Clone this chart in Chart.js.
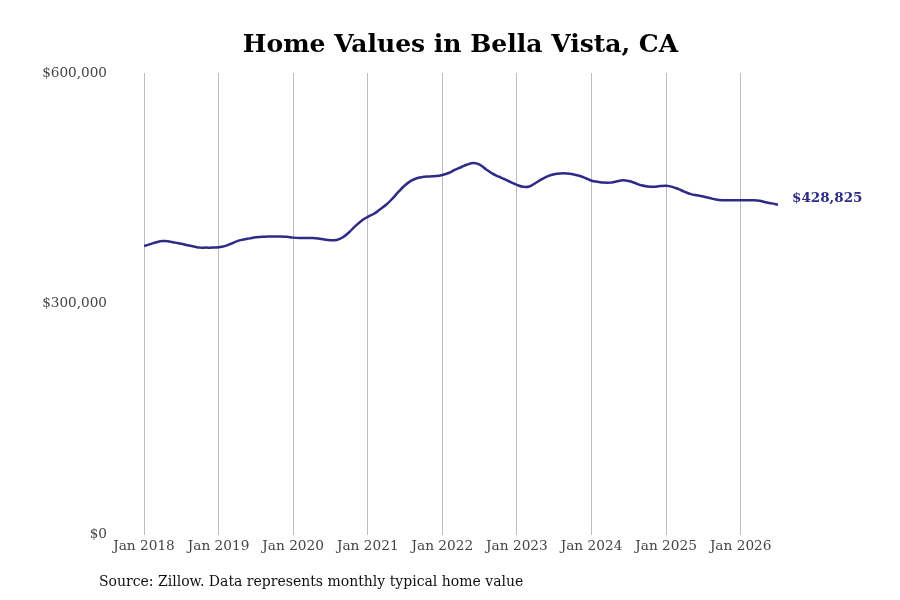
<!DOCTYPE html>
<html>
<head>
<meta charset="utf-8">
<title>Home Values in Bella Vista, CA</title>
<script src="https://cdn.jsdelivr.net/npm/chart.js@4.4.1/dist/chart.umd.min.js"></script>
<style>
  html, body { margin: 0; padding: 0; background: #fff; }
  #wrap { width: 900px; height: 600px; position: relative; }
</style>
</head>
<body>
<div id="wrap"><canvas id="chart"></canvas></div>
<script>
'use strict';

// monthly typical home value, Jan 2018 .. Jul 2026 (in thousands of dollars)
const startYear = 2018;
const values = [
  375, 377.5, 380, 381.5, 381, 379.5, 378, 376, 374.5, 373, 373, 373,
  373.5, 375, 378, 381.5, 383.5, 385, 386.5, 387, 387.5, 387.5, 387.5, 387,
  386, 385.5, 385.5, 385.5, 385, 383.5, 382.5, 383, 386.5, 393, 401, 408,
  413, 417, 423, 429, 437, 446, 454, 460, 463.5, 465, 465.5, 466,
  467.5, 470, 474, 477.5, 481, 483, 481, 475, 469.5, 465.5, 462, 458,
  454.5, 452, 452.5, 457, 462, 466, 468.5, 469.5, 469.5, 468.5, 466.5, 463.5,
  460, 458.5, 457.5, 457.5, 459, 460.5, 459.5, 457, 454, 452.5, 452, 453,
  453.5, 452, 449, 445.5, 442.5, 441, 439.5, 437.5, 435.5, 434.5, 434.5, 434.5,
  434.5, 434.5, 434.5, 434, 432, 430.5, 428.825
];
const yearTicks = [2018, 2019, 2020, 2021, 2022, 2023, 2024, 2025, 2026];
const yTicks = [0, 300000, 600000];
const titleText = 'Home Values in Bella Vista, CA';
const sourceText = 'Source: Zillow. Data represents monthly typical home value';

const lineColor = '#2e2a87';
const serif = '"DejaVu Serif", serif';

const points = values.map((v, i) => ({ x: i, y: v * 1000 }));

function money(v) {
  return '$' + Math.round(v).toLocaleString('en-US');
}

// end-of-line value label + source note
const extras = {
  id: 'extras',
  afterDatasetsDraw(chart) {
    const ctx = chart.ctx;
    const meta = chart.getDatasetMeta(0);
    const last = meta.data[meta.data.length - 1];
    ctx.save();
    ctx.font = 'bold 13.5px ' + serif;
    ctx.fillStyle = lineColor;
    ctx.textBaseline = 'alphabetic';
    ctx.textAlign = 'left';
    ctx.fillText(money(points[points.length - 1].y), last.x + 14, last.y - 2.5);
    ctx.font = '14px ' + serif;
    ctx.fillStyle = '#111';
    ctx.textBaseline = 'middle';
    ctx.fillText(sourceText, 99, 582);
    ctx.restore();
  }
};

window.addEventListener('load', run);

function run() {
  const ctx = document.getElementById('chart').getContext('2d');
  new Chart(ctx, {
    type: 'line',
    data: {
      datasets: [{
        data: points,
        borderColor: lineColor,
        borderWidth: 2.5,
        pointRadius: 0,
        tension: 0.4,
        fill: false
      }]
    },
    options: {
      responsive: true,
      maintainAspectRatio: false,
      animation: false,
      layout: { padding: { left: 21, right: 0, top: 0, bottom: 41 } },
      plugins: {
        legend: { display: false },
        tooltip: { enabled: false },
        title: {
          display: true,
          text: titleText,
          color: '#000',
          font: { family: serif, size: 25, weight: 'bold' },
          padding: { top: 30, bottom: 13 }
        }
      },
      scales: {
        x: {
          type: 'linear',
          min: 0,
          max: values.length - 1,
          afterBuildTicks: axis => {
            axis.ticks = yearTicks.map(y => ({ value: (y - startYear) * 12 }));
          },
          ticks: {
            color: '#444',
            font: { family: serif, size: 13.7 },
            padding: 4,
            maxRotation: 0,
            autoSkip: false,
            callback: v => 'Jan ' + (startYear + v / 12)
          },
          grid: { color: '#bdbdbd', lineWidth: 1, drawTicks: false },
          border: { display: false }
        },
        y: {
          min: 0,
          max: 600000,
          afterBuildTicks: axis => {
            axis.ticks = yTicks.map(v => ({ value: v }));
          },
          afterFit: axis => { axis.width = 123; },
          ticks: {
            color: '#444',
            font: { family: serif, size: 13.6 },
            padding: 37,
            callback: v => money(v)
          },
          grid: { display: false, drawTicks: false },
          border: { display: false }
        },
        // empty right-hand axis that keeps room for the end label
        yRight: {
          position: 'right',
          min: 0,
          max: 600000,
          afterFit: axis => { axis.width = 122; },
          ticks: { display: false },
          grid: { display: false, drawTicks: false },
          border: { display: false }
        }
      }
    },
    plugins: [extras]
  });
}
</script>
</body>
</html>
